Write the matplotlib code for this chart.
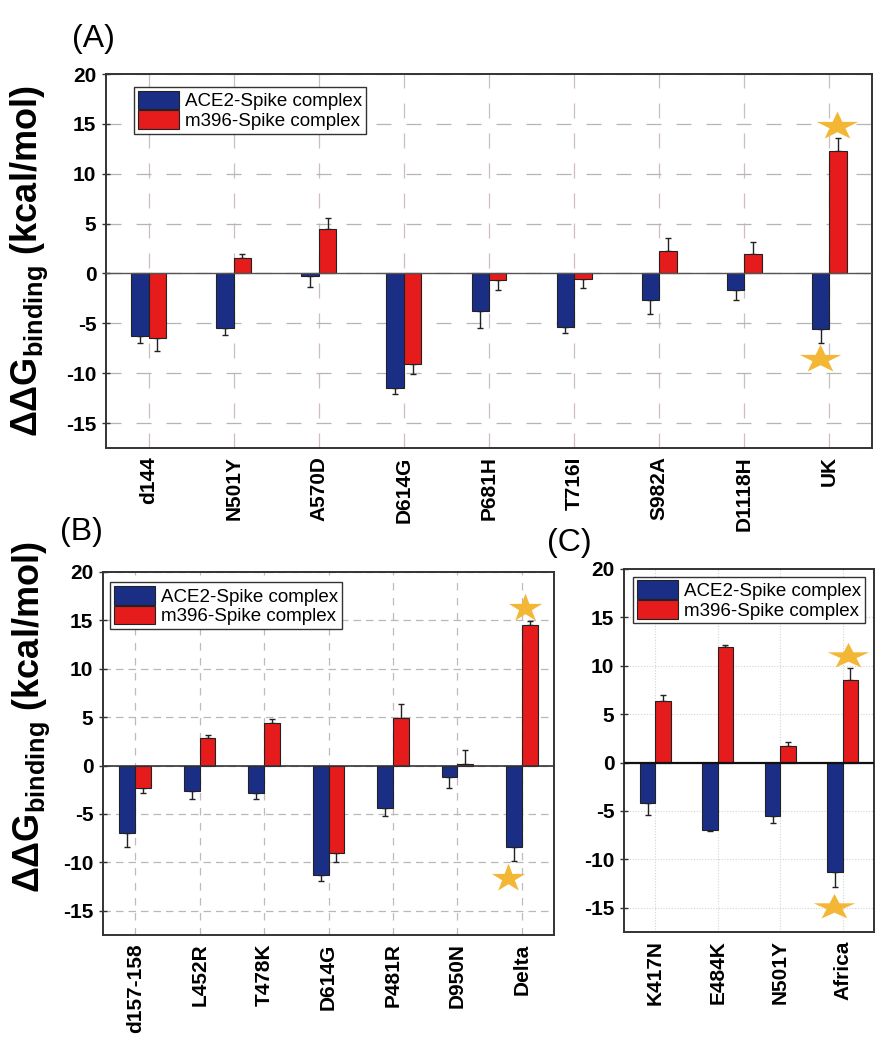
import numpy as np
import matplotlib
matplotlib.use("Agg")
import matplotlib.pyplot as plt
from matplotlib.path import Path

plt.rcParams['font.family'] = ['Liberation Sans', 'DejaVu Sans']
plt.rcParams['axes.unicode_minus'] = False
plt.rcParams['mathtext.fontset'] = 'custom'
plt.rcParams['mathtext.rm'] = 'Liberation Sans'
plt.rcParams['mathtext.bf'] = 'Liberation Sans:bold'
plt.rcParams['mathtext.it'] = 'Liberation Sans:italic'

# ---------------- data ----------------
series_names = ["ACE2-Spike complex", "m396-Spike complex"]

a_cats = ["d144", "N501Y", "A570D", "D614G", "P681H", "T716I", "S982A", "D1118H", "UK"]
a_ace2 = [-6.3, -5.5, -0.3, -11.5, -3.8, -5.4, -2.7, -1.7, -5.6]
a_ace2_err = [0.7, 0.7, 1.1, 0.6, 1.7, 0.6, 1.4, 1.0, 1.4]
a_m396 = [-6.5, 1.6, 4.5, -9.1, -0.7, -0.6, 2.3, 2.0, 12.3]
a_m396_err = [1.3, 0.4, 1.1, 1.0, 1.0, 0.9, 1.3, 1.2, 1.3]
a_star_x = [8.09, 7.89]
a_star_y = [14.8, -8.6]

b_cats = ["d157-158", "L452R", "T478K", "D614G", "P481R", "D950N", "Delta"]
b_ace2 = [-7.0, -2.6, -2.8, -11.3, -4.4, -1.2, -8.45]
b_ace2_err = [1.4, 0.9, 0.6, 0.6, 0.8, 1.1, 1.45]
b_m396 = [-2.3, 2.8, 4.4, -9.0, 4.9, 0.2, 14.55]
b_m396_err = [0.5, 0.35, 0.4, 1.0, 1.5, 1.4, 0.4]
b_star_x = [6.05, 5.79]
b_star_y = [16.3, -11.6]

c_cats = ["K417N", "E484K", "N501Y", "Africa"]
c_ace2 = [-4.15, -7.0, -5.5, -11.3]
c_ace2_err = [1.3, 0.1, 0.75, 1.55]
c_m396 = [6.4, 11.9, 1.75, 8.5]
c_m396_err = [0.55, 0.3, 0.35, 1.25]
c_star_x = [3.09, 2.86]
c_star_y = [11.0, -14.9]

yticks = [-15, -10, -5, 0, 5, 10, 15, 20]

BLUE = '#1b2e86'
RED = '#e61b1b'
STAR = '#f3b735'
EDGE = '#222222'

W, H = 885, 1050
fig = plt.figure(figsize=(W / 100, H / 100), dpi=100)


def px_axes(l, t, r, b):
    return fig.add_axes([l / W, 1 - b / H, (r - l) / W, (b - t) / H])


def star_marker(ratio):
    base = Path.unit_regular_star(5, 0.381966)
    v = base.vertices.copy()
    v[:, 1] *= ratio
    return Path(v, base.codes)


def panel(ax, cats, ace2, ace2_err, m396, m396_err, width, grid_h, grid_v,
          zero_kw, leg_anchor, star_x, star_y, star_ms, star_ratio):
    x = np.arange(len(cats))
    ace2 = np.array(ace2); m396 = np.array(m396)
    ax.set_axisbelow(True)
    ax.bar(x - width / 2, ace2, width, color=BLUE, edgecolor=EDGE, lw=0.8,
           label=series_names[0], zorder=3)
    ax.bar(x + width / 2, m396, width, color=RED, edgecolor=EDGE, lw=0.8,
           label=series_names[1], zorder=3)
    for xs, vals, errs in [(x - width / 2, ace2, ace2_err), (x + width / 2, m396, m396_err)]:
        errs = np.array(errs)
        lower = np.where(vals < 0, errs, 0)
        upper = np.where(vals >= 0, errs, 0)
        ax.errorbar(xs, vals, yerr=[lower, upper], fmt='none', ecolor=EDGE,
                    elinewidth=1.0, capsize=2.5, capthick=1.0, zorder=2)
    ax.axhline(0, zorder=4, **zero_kw)
    ax.set_xlim(-0.5, len(cats) - 0.5)
    ax.set_ylim(-17.5, 20)
    ax.set_yticks(yticks)
    ax.set_xticks(x)
    ax.set_xticklabels(cats, rotation=90, fontsize=15, fontweight='bold')
    for lab in ax.get_yticklabels():
        lab.set_fontweight('bold')
        lab.set_fontsize(15)
    ax.tick_params(axis='y', direction='inout', length=6, width=1, pad=4, color='#333')
    ax.tick_params(axis='x', length=0, pad=6)
    ax.xaxis.grid(True, **grid_v)
    ax.yaxis.grid(True, **grid_h)
    for s in ax.spines.values():
        s.set_color('#333333')
        s.set_linewidth(1.4)
    mk = star_marker(star_ratio)
    ax.plot(star_x, star_y, ls='none', marker=mk, ms=star_ms, color=STAR,
            markeredgewidth=0, zorder=6, clip_on=False)
    leg = ax.legend(loc='upper left', bbox_to_anchor=leg_anchor, borderaxespad=0,
                    fontsize=13.5, frameon=True, fancybox=False, framealpha=1,
                    edgecolor='#333333', handlelength=2.2, handleheight=1.15,
                    labelspacing=0.0, handletextpad=0.3, borderpad=0.2)
    leg.get_frame().set_linewidth(1.0)
    leg.set_zorder(10)


# Panel A
axA = px_axes(106, 74, 872, 448)
panel(axA, a_cats, a_ace2, a_ace2_err, a_m396, a_m396_err, 0.205,
      dict(color='#b5b5b5', lw=0.9, ls=(0, (12, 12))),
      dict(color='#cdbdbd', lw=0.9, ls=(0, (12, 12))),
      dict(color='#555555', lw=1.0), (0.037, 0.965),
      a_star_x, a_star_y, 30, 0.68)

# Panel B
axB = px_axes(103, 572, 554, 935)
panel(axB, b_cats, b_ace2, b_ace2_err, b_m396, b_m396_err, 0.245,
      dict(color='#b8b8b8', lw=0.9, ls=(0, (6, 4))),
      dict(color='#c4b8b8', lw=0.9, ls=(0, (6, 6))),
      dict(color='#333333', lw=1.2), (0.016, 0.972),
      b_star_x, b_star_y, 24, 0.85)

# Panel C
axC = px_axes(624, 569, 874, 932)
panel(axC, c_cats, c_ace2, c_ace2_err, c_m396, c_m396_err, 0.245,
      dict(color='#d4d4d4', lw=0.8, ls=(0, (1, 1.5))),
      dict(color='#d4d4d4', lw=0.8, ls=(0, (1, 1.5))),
      dict(color='#111111', lw=1.6), (0.036, 0.979),
      c_star_x, c_star_y, 30, 0.62)

ylab = 'ΔΔG$_{\\mathbf{binding}}$ (kcal/mol)'
fig.text(29 / W, 1 - 261 / H, ylab, rotation=90, ha='center', va='center',
         fontsize=26, fontweight='bold')
fig.text(31 / W, 1 - 717 / H, ylab, rotation=90, ha='center', va='center',
         fontsize=26, fontweight='bold')

fig.text(72 / W, 1 - 47 / H, '(A)', fontsize=23, ha='left', va='baseline')
fig.text(60 / W, 1 - 540 / H, '(B)', fontsize=23, ha='left', va='baseline')
fig.text(547 / W, 1 - 551 / H, '(C)', fontsize=23, ha='left', va='baseline')

fig.savefig('out.png', dpi=100)
